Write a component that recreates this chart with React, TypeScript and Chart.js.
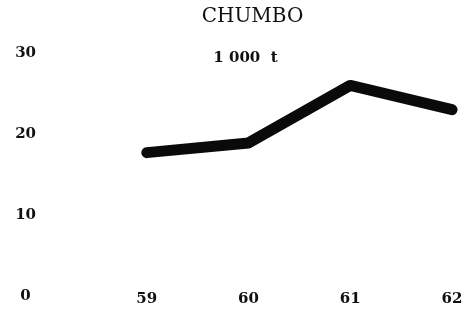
import React, { useEffect, useRef } from "react";
import { Chart, registerables } from "chart.js";

Chart.register(...registerables);

const title = "CHUMBO";
const unitLabel = "1 000  t";
const years = [59, 60, 61, 62];
const values = [17.7, 18.9, 26.0, 23.0];
const yTicks = [0, 10, 20, 30];

const titlePlugin = {
  id: "customTitles",
  afterDraw(chart: any) {
    const { ctx, chartArea } = chart;
    const cx = (chartArea.left + chartArea.right) / 2;
    ctx.save();
    ctx.fillStyle = "#111";
    ctx.textAlign = "center";
    ctx.textBaseline = "middle";
    ctx.font = "20px 'DejaVu Serif'";
    ctx.fillText(title, cx + 4, chartArea.top - 36);
    ctx.font = "bold 15px 'DejaVu Serif'";
    ctx.fillText(unitLabel, cx - 3, chartArea.top + 5);
    ctx.restore();
  },
};

export default function App() {
  const ref = useRef<HTMLCanvasElement>(null);
  useEffect(() => {
    if (!ref.current) return;
    const tickFont = { family: "'DejaVu Serif'", size: 15, weight: "bold" as const };
    const chart = new Chart(ref.current, {
      type: "line",
      data: {
        datasets: [
          {
            data: years.map((y, i) => ({ x: y, y: values[i] })),
            borderColor: "#0a0a0a",
            borderWidth: 11,
            borderCapStyle: "round",
            borderJoinStyle: "round",
            pointRadius: 0,
            tension: 0,
            clip: false as any,
          },
        ],
      },
      options: {
        responsive: false,
        animation: false,
        layout: { padding: { top: 53, right: 23, bottom: 0, left: 0 } },
        plugins: { legend: { display: false }, tooltip: { enabled: false }, title: { display: false } },
        scales: {
          x: {
            type: "linear",
            min: 58,
            max: 62,
            grid: { display: false, drawTicks: false },
            border: { display: false },
            afterBuildTicks: (scale: any) => {
              scale.ticks = years.map((v) => ({ value: v }));
            },
            afterFit: (scale: any) => {
              scale.height = 14;
            },
            ticks: {
              mirror: true,
              padding: -12,
              color: "#111",
              font: tickFont,
              maxRotation: 0,
              autoSkip: false,
              callback: (v: any) => String(v),
            },
          },
          y: {
            type: "linear",
            min: 0,
            max: 30,
            grid: { display: false, drawTicks: false },
            border: { display: false },
            afterBuildTicks: (scale: any) => {
              scale.ticks = yTicks.map((v) => ({ value: v }));
            },
            afterFit: (scale: any) => {
              scale.width = 45;
            },
            ticks: {
              padding: 9,
              crossAlign: "center",
              color: "#111",
              font: tickFont,
              callback: (v: any) => String(v),
            },
          },
        },
      },
      plugins: [titlePlugin],
    });
    return () => chart.destroy();
  }, []);
  return (
    <div style={{ position: "absolute", left: 0, top: 0, width: 475, height: 314, background: "#fff" }}>
      <canvas ref={ref} width={475} height={314} style={{ display: "block" }} />
    </div>
  );
}
